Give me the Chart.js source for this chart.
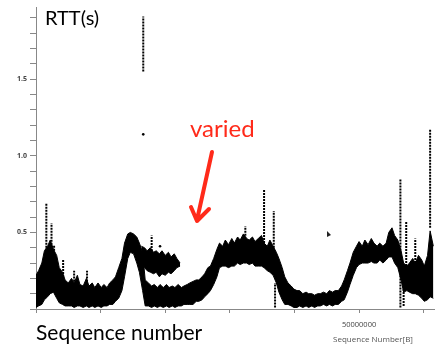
<!DOCTYPE html>
<html>
<head>
<meta charset="utf-8">
<script src="https://cdn.jsdelivr.net/npm/chart.js@4.4.0/dist/chart.umd.min.js"></script>
<style>
  html, body { margin: 0; padding: 0; background: #fff; overflow: hidden; }
  #wrap { width: 438px; height: 345px; }
</style>
</head>
<body>
<div id="wrap"><canvas id="rtt" width="438" height="345"></canvas></div>
<script>
// sequence numbers in millions of bytes, RTT in seconds

// main band of the trace: upper and lower edge
const bandSeq = [0.0, 0.4, 0.9, 1.3, 1.8, 2.2, 2.7, 3.2, 3.6, 4.1, 4.5, 5.0, 5.5, 5.9, 6.4, 6.8, 7.3, 7.8, 8.2, 8.7,
  9.1, 9.6, 10.1, 10.5, 11.0, 11.4, 11.9, 12.3, 12.8, 13.3, 13.7, 14.2, 14.6, 15.1, 15.6, 16.0, 16.5, 16.9, 17.4, 17.9,
  18.3, 18.8, 19.2, 19.7, 20.2, 20.6, 21.1, 21.5, 22.0, 22.5, 22.9, 23.4, 23.8, 24.3, 24.8, 25.2, 25.7, 26.1, 26.6, 27.0,
  27.5, 28.0, 28.4, 28.9, 29.3, 29.8, 30.3, 30.7, 31.2, 31.6, 32.1, 32.6, 33.0, 33.5, 33.9, 34.4, 34.9, 35.3, 35.8, 36.2,
  36.7, 37.2, 37.6, 38.1, 38.5, 39.0, 39.5, 39.9, 40.4, 40.8, 41.3, 41.8, 42.2, 42.7, 43.1, 43.6, 44.0, 44.5, 45.0, 45.4,
  45.9, 46.3, 46.8, 47.3, 47.7, 48.2, 48.6, 49.1, 49.6, 50.0, 50.5, 50.9, 51.4, 51.9, 52.3, 52.8, 53.2, 53.7, 54.2, 54.6,
  55.1, 55.5, 56.0, 56.5, 56.9, 57.4, 57.8, 58.3, 58.7, 59.2, 59.7, 60.1, 60.6, 61.0, 61.5]
const bandTop = [0.22, 0.25, 0.30, 0.38, 0.41, 0.45, 0.39, 0.35, 0.27, 0.24, 0.19, 0.17, 0.20, 0.17, 0.22, 0.16, 0.15, 0.20, 0.15, 0.17,
  0.14, 0.17, 0.14, 0.16, 0.14, 0.17, 0.19, 0.21, 0.27, 0.33, 0.43, 0.49, 0.50, 0.49, 0.47, 0.43, 0.37, 0.19, 0.17, 0.15,
  0.16, 0.14, 0.16, 0.14, 0.16, 0.14, 0.15, 0.14, 0.16, 0.14, 0.15, 0.16, 0.17, 0.18, 0.19, 0.19, 0.21, 0.23, 0.27, 0.28,
  0.33, 0.39, 0.43, 0.41, 0.45, 0.42, 0.46, 0.43, 0.47, 0.45, 0.49, 0.46, 0.45, 0.47, 0.44, 0.46, 0.48, 0.43, 0.41, 0.45,
  0.41, 0.37, 0.33, 0.27, 0.21, 0.17, 0.15, 0.13, 0.12, 0.12, 0.10, 0.11, 0.10, 0.10, 0.09, 0.10, 0.10, 0.11, 0.10, 0.12,
  0.11, 0.12, 0.12, 0.15, 0.19, 0.25, 0.30, 0.37, 0.41, 0.44, 0.41, 0.45, 0.42, 0.46, 0.43, 0.41, 0.43, 0.41, 0.43, 0.50,
  0.53, 0.48, 0.45, 0.38, 0.30, 0.28, 0.30, 0.33, 0.30, 0.35, 0.32, 0.28, 0.35, 0.51, 0.41]
const bandLow = [0.01, 0.02, 0.03, 0.06, 0.08, 0.10, 0.11, 0.07, 0.04, 0.03, 0.02, 0.02, 0.02, 0.01, 0.02, 0.02, 0.01, 0.02, 0.01, 0.02,
  0.01, 0.02, 0.01, 0.02, 0.02, 0.03, 0.03, 0.05, 0.07, 0.12, 0.21, 0.33, 0.37, 0.36, 0.30, 0.24, 0.12, 0.02, 0.02, 0.01,
  0.02, 0.01, 0.02, 0.01, 0.02, 0.01, 0.02, 0.01, 0.02, 0.02, 0.03, 0.03, 0.03, 0.03, 0.05, 0.05, 0.06, 0.08, 0.10, 0.12,
  0.16, 0.21, 0.27, 0.28, 0.28, 0.27, 0.28, 0.28, 0.30, 0.29, 0.30, 0.30, 0.29, 0.30, 0.28, 0.28, 0.28, 0.27, 0.25, 0.24,
  0.22, 0.17, 0.11, 0.06, 0.03, 0.03, 0.02, 0.01, 0.01, 0.02, 0.01, 0.02, 0.01, 0.02, 0.01, 0.02, 0.02, 0.03, 0.02, 0.03,
  0.02, 0.03, 0.03, 0.05, 0.06, 0.11, 0.16, 0.22, 0.27, 0.29, 0.30, 0.30, 0.30, 0.31, 0.30, 0.30, 0.32, 0.30, 0.32, 0.34,
  0.34, 0.30, 0.27, 0.19, 0.11, 0.12, 0.11, 0.10, 0.10, 0.09, 0.07, 0.05, 0.06, 0.08, 0.07]

// upper branch of the "varied" section
const variedSeq = [16.3, 16.8, 17.2, 17.7, 18.2, 18.6, 19.1, 19.5, 20.0, 20.5, 20.9, 21.4, 21.8, 22.3]
const variedTop = [0.41, 0.40, 0.38, 0.40, 0.37, 0.38, 0.36, 0.38, 0.35, 0.37, 0.34, 0.36, 0.33, 0.30]
const variedLow = [0.30, 0.27, 0.25, 0.24, 0.23, 0.24, 0.21, 0.23, 0.22, 0.24, 0.23, 0.25, 0.27, 0.28]

// vertical runs of samples (spikes)
const spikeSeq  = [1.6, 2.4, 2.8, 4.2, 5.9, 7.9, 16.6, 17.9, 32.4, 35.3, 36.8, 37.0, 56.4, 56.9, 57.3, 58.7, 61.0]
const spikeLow  = [0.38, 0.40, 0.38, 0.15, 0.14, 0.14, 1.55, 0.30, 0.40, 0.43, 0.38, 0.01, 0.01, 0.02, 0.28, 0.30, 0.53]
const spikeHigh = [0.69, 0.56, 0.42, 0.32, 0.25, 0.25, 1.91, 0.48, 0.54, 0.78, 0.64, 0.17, 0.85, 0.20, 0.57, 0.46, 1.17]

// isolated samples
const dotSeq = [16.6, 19.2]
const dotRtt = [1.14, 0.41]

const yTickLabels = ['0.5', '1.0', '1.5']
const xTickLabels = ['50000000']

const toPts = (xs, ys) => xs.map((x, i) => ({ x: x, y: ys[i] }))

// each spike = bottom point, top point, then a gap
const spikePts = spikeSeq.flatMap((x, i) => [
  { x: x, y: spikeLow[i] },
  { x: x, y: spikeHigh[i] },
  { x: x, y: null }
])

const edge = { type: 'line', showLine: true, borderColor: '#000', borderWidth: 1, pointRadius: 0, tension: 0 }

// texte posé par-dessus (annotations de la diapo)
const annotations = {
  id: 'annotations',
  afterDraw(chart) {
    const ctx = chart.ctx
    ctx.save()
    ctx.fillStyle = '#000'
    ctx.textBaseline = 'alphabetic'
    ctx.font = '20px Lato'
    ctx.fillText('RTT(s)', 45, 25)
    ctx.font = '21px Lato'
    ctx.fillText('Sequence number', 36, 340)

    ctx.fillStyle = '#ff2a1a'
    ctx.font = '24px Lato'
    ctx.fillText('varied', 190, 137)

    // flèche rouge
    ctx.strokeStyle = '#ff2a1a'
    ctx.lineWidth = 4
    ctx.lineCap = 'round'
    ctx.lineJoin = 'round'
    ctx.beginPath()
    ctx.moveTo(212, 152)
    ctx.lineTo(197, 220)
    ctx.moveTo(191, 207)
    ctx.lineTo(197, 221)
    ctx.lineTo(209, 209)
    ctx.stroke()

    // x axis title, centred on the full (cropped) axis
    ctx.fillStyle = '#555'
    ctx.font = '8px "Open Sans"'
    ctx.textAlign = 'center'
    ctx.fillText('Sequence Number[B]', 373, 342)

    // pointeur de souris
    ctx.fillStyle = '#222'
    ctx.beginPath()
    ctx.moveTo(327, 231)
    ctx.lineTo(327, 237)
    ctx.lineTo(331, 235)
    ctx.closePath()
    ctx.fill()
    ctx.restore()
  }
}

const config = {
  type: 'scatter',
  data: {
    datasets: [
      { ...edge, data: toPts(bandSeq, bandTop), fill: false },
      { ...edge, data: toPts(bandSeq, bandLow), fill: '-1', backgroundColor: '#000' },
      { ...edge, data: toPts(variedSeq, variedTop), fill: false },
      { ...edge, data: toPts(variedSeq, variedLow), fill: '-1', backgroundColor: '#000' },
      { type: 'line', data: spikePts, showLine: true, spanGaps: false, borderColor: '#000', borderWidth: 2, borderDash: [2, 1], pointRadius: 0 },
      { type: 'scatter', data: toPts(dotSeq, dotRtt), pointRadius: 1.3, backgroundColor: '#000', borderWidth: 0 }
    ]
  },
  options: {
    responsive: false,
    animation: false,
    devicePixelRatio: 1,
    layout: { padding: 0 },
    plugins: { legend: { display: false }, tooltip: { enabled: false } },
    scales: {
      x: {
        type: 'linear',
        min: 0,
        max: 61.6,
        afterFit(scale) { scale.height = 36 },
        grid: { drawOnChartArea: false, tickLength: 4, color: '#888' },
        border: { color: '#888' },
        ticks: {
          stepSize: 10,
          autoSkip: false,
          maxRotation: 0,
          includeBounds: false,
          padding: 7,
          color: '#444',
          font: { family: 'Open Sans', size: 7.5 },
          callback: v => {
            const s = String(Math.round(v * 1e6))
            return xTickLabels.includes(s) ? s : ''
          }
        }
      },
      y: {
        min: 0,
        max: 1.97,
        afterFit(scale) { scale.width = 36 },
        grid: { drawOnChartArea: false, tickLength: 6, color: '#888' },
        border: { color: '#888' },
        ticks: {
          stepSize: 0.1,
          autoSkip: false,
          includeBounds: false,
          padding: 3,
          color: '#444',
          font: { family: 'Open Sans', size: 7, weight: 'bold' },
          callback: v => yTickLabels.includes(v.toFixed(1)) ? v.toFixed(1) : ''
        }
      }
    }
  },
  plugins: [annotations]
}

const rttChart = new Chart(document.getElementById('rtt'), config)
</script>
</body>
</html>
